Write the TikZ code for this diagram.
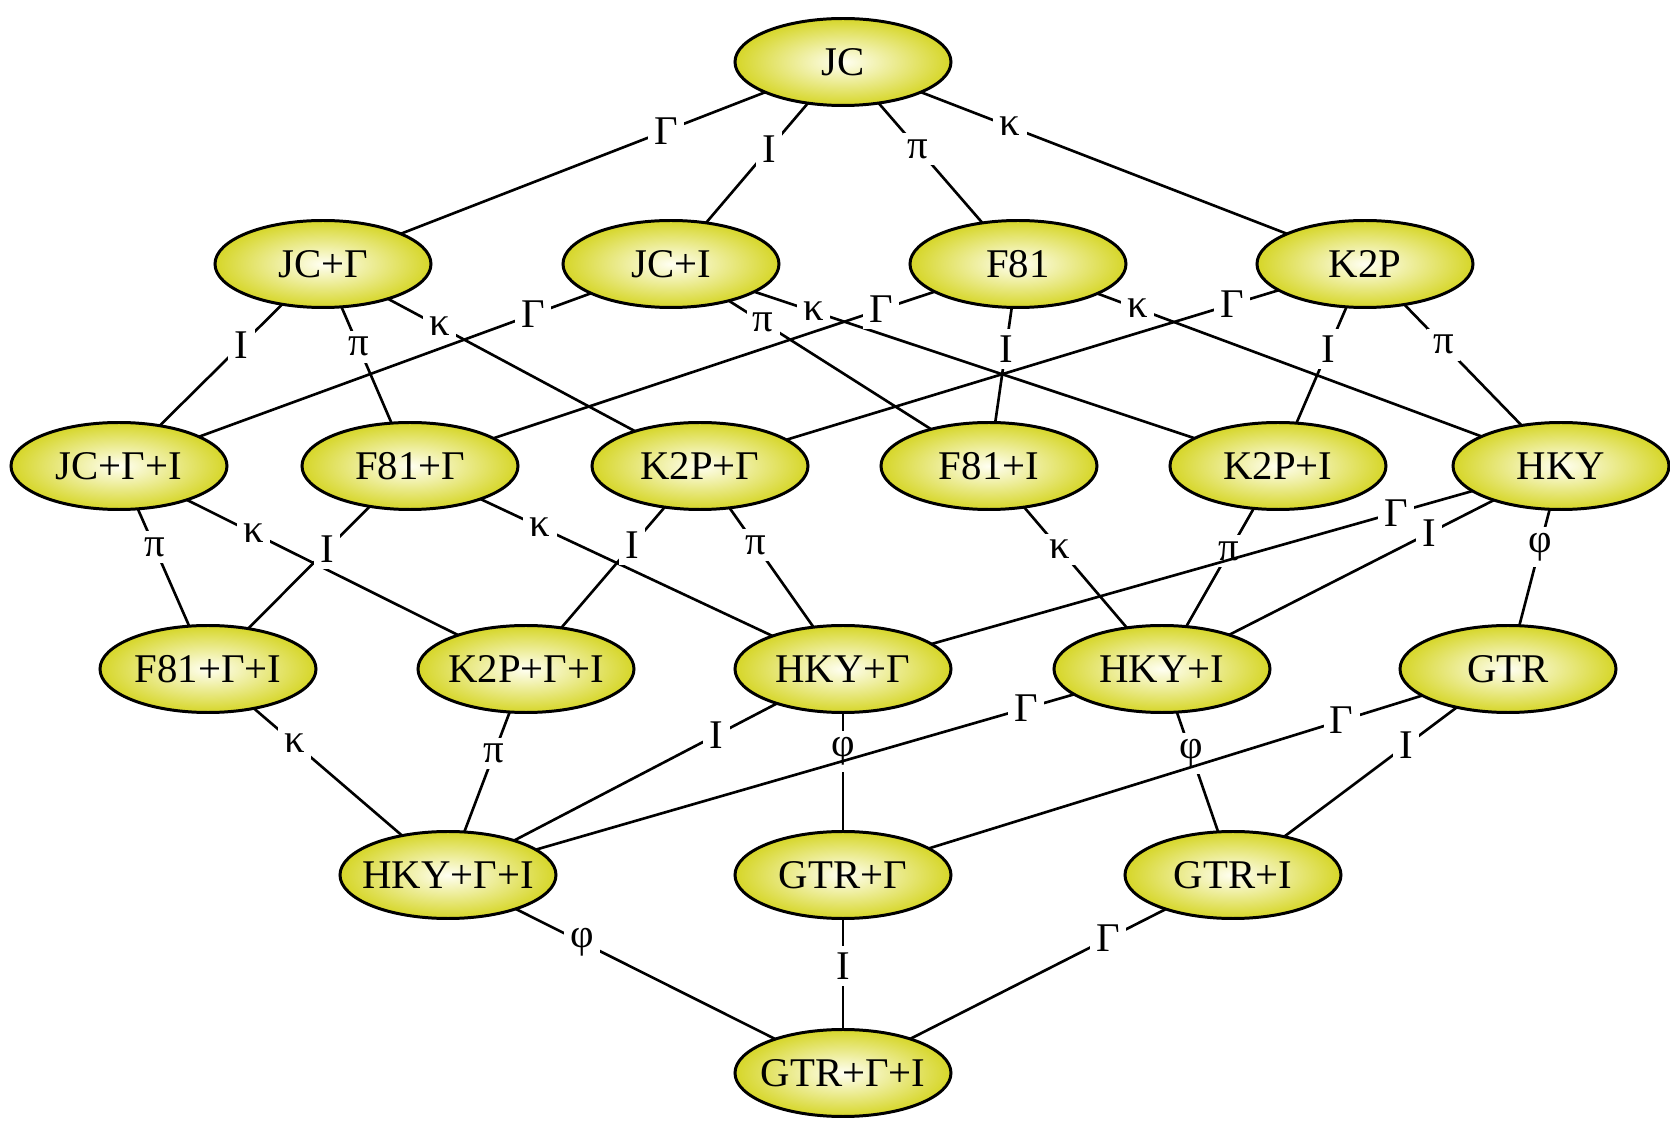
\documentclass[tikz,border=0pt]{standalone}
\usepackage{fontspec}
\setmainfont{Liberation Serif}
\usepackage{tikz}
\usetikzlibrary{shapes.geometric,backgrounds}
\definecolor{modelrim}{RGB}{214,214,40}
\definecolor{modelcore}{RGB}{255,255,242}

\begin{document}
\begin{tikzpicture}[
  model/.style={ellipse, draw, line width=0.85pt, inner color=modelcore, outer color=modelrim,
                minimum width=2.16cm, minimum height=0.87cm, inner xsep=-0.13cm, inner ysep=0pt,
                font=\fontsize{11.6}{13}\selectfont},
  lbl/.style={fill=white, inner sep=1.8pt, font=\fontsize{11.6}{13}\selectfont},
  link/.style={line width=0.75pt}
]
  \useasboundingbox (0,0) rectangle (16.7,11.25);

  \node[model] (jc)    at (8.43,10.63) {JC};

  \node[model] (jcG)   at (3.23,8.61)  {JC+Γ};
  \node[model] (jcI)   at (6.71,8.61)  {JC+I};
  \node[model] (f81)   at (10.18,8.61) {F81};
  \node[model] (k2p)   at (13.65,8.61) {K2P};

  \node[model] (jcGI)  at (1.19,6.59)  {JC+Γ+I};
  \node[model] (f81G)  at (4.10,6.59)  {F81+Γ};
  \node[model] (k2pG)  at (7.00,6.59)  {K2P+Γ};
  \node[model] (f81I)  at (9.89,6.59)  {F81+I};
  \node[model] (k2pI)  at (12.78,6.59) {K2P+I};
  \node[model] (hky)   at (15.61,6.59) {HKY};

  \node[model] (f81GI) at (2.08,4.56)  {F81+Γ+I};
  \node[model] (k2pGI) at (5.26,4.56)  {K2P+Γ+I};
  \node[model] (hkyG)  at (8.43,4.56)  {HKY+Γ};
  \node[model] (hkyI)  at (11.62,4.56) {HKY+I};
  \node[model] (gtr)   at (15.08,4.56) {GTR};

  \node[model] (hkyGI) at (4.48,2.50)  {HKY+Γ+I};
  \node[model] (gtrG)  at (8.43,2.50)  {GTR+Γ};
  \node[model] (gtrI)  at (12.33,2.50) {GTR+I};

  \node[model] (gtrGI) at (8.43,0.52)  {GTR+Γ+I};

  \begin{scope}[on background layer]
    \draw[link] (jc.center) -- node[lbl,pos=0.34] {Γ} (jcG.center);
    \draw[link] (jc.center) -- node[lbl,pos=0.43] {I} (jcI.center);
    \draw[link] (jc.center) -- node[lbl,pos=0.43] {π} (f81.center);
    \draw[link] (jc.center) -- node[lbl,pos=0.32] {κ} (k2p.center);

    \draw[link] (jcG.center) -- node[lbl,pos=0.40] {I} (jcGI.center);
    \draw[link] (jcG.center) -- node[lbl,pos=0.41] {π} (f81G.center);
    \draw[link] (jcG.center) -- node[lbl,pos=0.31] {κ} (k2pG.center);
    \draw[link] (jcI.center) -- node[lbl,pos=0.25] {Γ} (jcGI.center);
    \draw[link] (jcI.center) -- node[lbl,pos=0.29] {π} (f81I.center);
    \draw[link] (jcI.center) -- node[lbl,pos=0.235] {κ} (k2pI.center);
    \draw[link] (f81.center) -- node[lbl,pos=0.225] {Γ} (f81G.center);
    \draw[link] (f81.center) -- node[lbl,pos=0.42] {I} (f81I.center);
    \draw[link] (f81.center) -- node[lbl,pos=0.22] {κ} (hky.center);
    \draw[link] (k2p.center) -- node[lbl,pos=0.20] {Γ} (k2pG.center);
    \draw[link] (k2p.center) -- node[lbl,pos=0.42] {I} (k2pI.center);
    \draw[link] (k2p.center) -- node[lbl,pos=0.40] {π} (hky.center);

    \draw[link] (jcGI.center) -- node[lbl,pos=0.40] {π} (f81GI.center);
    \draw[link] (jcGI.center) -- node[lbl,pos=0.33] {κ} (k2pGI.center);
    \draw[link] (f81G.center) -- node[lbl,pos=0.41] {I} (f81GI.center);
    \draw[link] (f81G.center) -- node[lbl,pos=0.30] {κ} (hkyG.center);
    \draw[link] (k2pG.center) -- node[lbl,pos=0.39] {I} (k2pGI.center);
    \draw[link] (k2pG.center) -- node[lbl,pos=0.39] {π} (hkyG.center);
    \draw[link] (f81I.center) -- node[lbl,pos=0.41] {κ} (hkyI.center);
    \draw[link] (k2pI.center) -- node[lbl,pos=0.42] {π} (hkyI.center);
    \draw[link] (hky.center) -- node[lbl,pos=0.23] {Γ} (hkyG.center);
    \draw[link] (hky.center) -- node[lbl,pos=0.33] {I} (hkyI.center);
    \draw[link] (hky.center) -- node[lbl,pos=0.40] {φ} (gtr.center);

    \draw[link] (f81GI.center) -- node[lbl,pos=0.36] {κ} (hkyGI.center);
    \draw[link] (k2pGI.center) -- node[lbl,pos=0.41] {π} (hkyGI.center);
    \draw[link] (hkyG.center) -- node[lbl,pos=0.32] {I} (hkyGI.center);
    \draw[link] (hkyG.center) -- node[lbl,pos=0.40] {φ} (gtrG.center);
    \draw[link] (hkyI.center) -- node[lbl,pos=0.19] {Γ} (hkyGI.center);
    \draw[link] (hkyI.center) -- node[lbl,pos=0.41] {φ} (gtrI.center);
    \draw[link] (gtr.center) -- node[lbl,pos=0.25] {Γ} (gtrG.center);
    \draw[link] (gtr.center) -- node[lbl,pos=0.37] {I} (gtrI.center);

    \draw[link] (hkyGI.center) -- node[lbl,pos=0.34] {φ} (gtrGI.center);
    \draw[link] (gtrG.center) -- node[lbl,pos=0.46] {I} (gtrGI.center);
    \draw[link] (gtrI.center) -- node[lbl,pos=0.32] {Γ} (gtrGI.center);
  \end{scope}
\end{tikzpicture}
\end{document}
